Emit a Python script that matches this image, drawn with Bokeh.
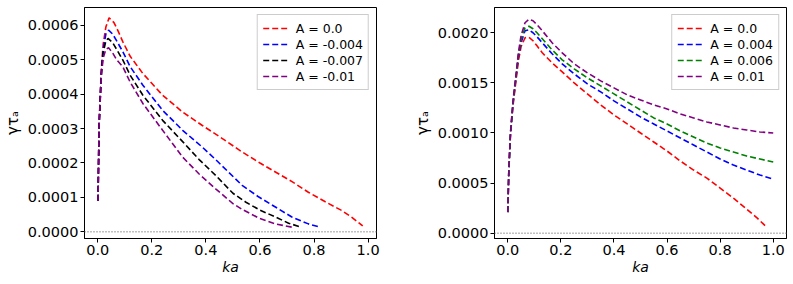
from bokeh.plotting import figure
from bokeh.models import Span, Legend, LegendItem, FixedTicker, PrintfTickFormatter, Range1d
from bokeh.layouts import row
from bokeh.embed import file_html
from bokeh.resources import INLINE

# ---------------- left panel: A <= 0 (values of gamma*tau_a) ----------------
left_labels = ["A = 0.0", "A = -0.004", "A = -0.007", "A = -0.01"]
left_colors = ["red", "blue", "black", "purple"]

ka_L_a00 = [0.001, 0.005, 0.013, 0.02, 0.03, 0.042, 0.06, 0.075, 0.093, 0.12, 0.167, 0.24, 0.314,
            0.387, 0.461, 0.534, 0.6, 0.657, 0.72, 0.779, 0.84, 0.902, 0.94, 0.98]
g_L_a00 = [0.9e-4, 3.1e-4, 4.7e-4, 5.45e-4, 5.95e-4, 6.22e-4, 6.08e-4, 5.84e-4, 5.52e-4, 5.1e-4, 4.6e-4,
           3.97e-4, 3.48e-4, 3.09e-4, 2.71e-4, 2.32e-4, 2.0e-4, 1.74e-4, 1.45e-4, 1.15e-4, 0.88e-4,
           0.62e-4, 0.42e-4, 0.17e-4]

ka_L_a004 = [0.001, 0.005, 0.013, 0.02, 0.03, 0.04, 0.055, 0.07, 0.093, 0.12, 0.167, 0.24, 0.314,
             0.387, 0.436, 0.534, 0.596, 0.657, 0.718, 0.779, 0.822]
g_L_a004 = [0.9e-4, 3.1e-4, 4.6e-4, 5.3e-4, 5.75e-4, 5.86e-4, 5.75e-4, 5.55e-4, 5.23e-4, 4.8e-4, 4.26e-4,
            3.53e-4, 2.95e-4, 2.46e-4, 2.1e-4, 1.35e-4, 1.01e-4, 0.72e-4, 0.43e-4, 0.23e-4, 0.135e-4]

ka_L_a007 = [0.001, 0.005, 0.013, 0.02, 0.03, 0.038, 0.055, 0.07, 0.093, 0.12, 0.167, 0.24, 0.314,
             0.375, 0.436, 0.5, 0.55, 0.6, 0.657, 0.706, 0.752]
g_L_a007 = [0.9e-4, 3.1e-4, 4.55e-4, 5.2e-4, 5.55e-4, 5.62e-4, 5.5e-4, 5.3e-4, 4.99e-4, 4.55e-4, 3.97e-4,
            3.24e-4, 2.62e-4, 2.1e-4, 1.64e-4, 1.12e-4, 0.85e-4, 0.63e-4, 0.43e-4, 0.25e-4, 0.135e-4]

ka_L_a010 = [0.001, 0.005, 0.013, 0.02, 0.03, 0.04, 0.055, 0.07, 0.093, 0.12, 0.167, 0.24, 0.314,
             0.375, 0.436, 0.5, 0.534, 0.596, 0.657, 0.718]
g_L_a010 = [0.9e-4, 3.1e-4, 4.5e-4, 5.05e-4, 5.3e-4, 5.35e-4, 5.2e-4, 5.0e-4, 4.79e-4, 4.35e-4, 3.73e-4,
            2.95e-4, 2.17e-4, 1.68e-4, 1.25e-4, 0.82e-4, 0.65e-4, 0.4e-4, 0.23e-4, 0.135e-4]

# ---------------- right panel: A >= 0 ----------------
right_labels = ["A = 0.0", "A = 0.004", "A = 0.006", "A = 0.01"]
right_colors = ["red", "blue", "green", "purple"]

ka_R_common = [0.0, 0.004, 0.01, 0.02, 0.03, 0.04, 0.05, 0.065, 0.08, 0.095, 0.11, 0.13, 0.167, 0.205,
               0.25, 0.3, 0.35, 0.4, 0.45, 0.5, 0.55, 0.6, 0.65, 0.7, 0.75, 0.8, 0.85, 0.9, 0.95, 1.0]

ka_R_a00 = [0.0, 0.004, 0.01, 0.02, 0.03, 0.04, 0.05, 0.065, 0.08, 0.095, 0.11, 0.13, 0.167, 0.205,
            0.25, 0.3, 0.35, 0.4, 0.45, 0.5, 0.55, 0.6, 0.65, 0.7, 0.75, 0.8, 0.85, 0.9, 0.94, 0.975]
g_R_a00 = [0.21e-3, 0.62e-3, 0.97e-3, 1.28e-3, 1.5e-3, 1.72e-3, 1.86e-3, 1.95e-3, 1.955e-3, 1.92e-3,
           1.87e-3, 1.8e-3, 1.7e-3, 1.61e-3, 1.5e-3, 1.39e-3, 1.28e-3, 1.18e-3, 1.09e-3, 1.0e-3,
           0.91e-3, 0.82e-3, 0.72e-3, 0.63e-3, 0.55e-3, 0.45e-3, 0.35e-3, 0.24e-3, 0.15e-3, 0.06e-3]

g_R_a004 = [0.21e-3, 0.62e-3, 0.98e-3, 1.3e-3, 1.53e-3, 1.76e-3, 1.9e-3, 2.02e-3, 2.03e-3, 2.0e-3,
            1.96e-3, 1.9e-3, 1.79e-3, 1.69e-3, 1.59e-3, 1.49e-3, 1.41e-3, 1.32e-3, 1.24e-3, 1.16e-3,
            1.09e-3, 1.02e-3, 0.95e-3, 0.88e-3, 0.81e-3, 0.74e-3, 0.68e-3, 0.63e-3, 0.58e-3, 0.54e-3]

g_R_a006 = [0.21e-3, 0.63e-3, 0.99e-3, 1.31e-3, 1.54e-3, 1.78e-3, 1.93e-3, 2.05e-3, 2.065e-3, 2.04e-3,
            2.0e-3, 1.94e-3, 1.83e-3, 1.73e-3, 1.64e-3, 1.55e-3, 1.47e-3, 1.39e-3, 1.31e-3, 1.23e-3,
            1.15e-3, 1.09e-3, 1.02e-3, 0.96e-3, 0.9e-3, 0.85e-3, 0.81e-3, 0.77e-3, 0.74e-3, 0.71e-3]

g_R_a010 = [0.21e-3, 0.64e-3, 1.0e-3, 1.33e-3, 1.56e-3, 1.8e-3, 1.97e-3, 2.1e-3, 2.135e-3, 2.12e-3,
            2.08e-3, 2.02e-3, 1.9e-3, 1.8e-3, 1.69e-3, 1.6e-3, 1.52e-3, 1.45e-3, 1.38e-3, 1.33e-3,
            1.28e-3, 1.24e-3, 1.19e-3, 1.15e-3, 1.11e-3, 1.08e-3, 1.05e-3, 1.03e-3, 1.01e-3, 1.0e-3]

x_ticks = [0.0, 0.2, 0.4, 0.6, 0.8, 1.0]
y_ticks_left = [0.0, 0.0001, 0.0002, 0.0003, 0.0004, 0.0005, 0.0006]
y_ticks_right = [0.0, 0.0005, 0.0010, 0.0015, 0.0020]

FONT = "DejaVu Sans"


def make_panel(width, height, xr, yr, yticks, series, labels, colors, border_left, border_right):
    p = figure(width=width, height=height, output_backend="svg", toolbar_location=None,
               x_range=Range1d(*xr), y_range=Range1d(*yr),
               min_border_left=border_left, min_border_right=border_right,
               min_border_top=7, min_border_bottom=44)
    p.xgrid.visible = False
    p.ygrid.visible = False
    p.outline_line_color = "black"
    p.outline_line_width = 1
    p.outline_line_alpha = 1

    p.xaxis.ticker = FixedTicker(ticks=x_ticks)
    p.xaxis.formatter = PrintfTickFormatter(format="%.1f")
    p.yaxis.ticker = FixedTicker(ticks=yticks)
    p.yaxis.formatter = PrintfTickFormatter(format="%.4f")
    for ax in (p.xaxis, p.yaxis):
        ax.axis_line_color = "black"
        ax.major_tick_line_color = "black"
        ax.major_tick_in = 0
        ax.major_tick_out = 4
        ax.minor_tick_line_color = None
        ax.major_label_text_font = FONT
        ax.major_label_text_font_size = "14.5px"
        ax.major_label_text_color = "black"
        ax.major_label_standoff = 2
        ax.axis_label_text_font = FONT
        ax.axis_label_text_font_size = "14px"
        ax.axis_label_text_color = "black"
    p.xaxis.axis_label = "ka"
    p.xaxis.axis_label_text_font_style = "italic"
    p.xaxis.axis_label_standoff = 1
    p.yaxis.axis_label = "γτₐ"
    p.yaxis.axis_label_text_font_style = "normal"
    p.yaxis.axis_label_text_font_size = "15px"
    p.yaxis.axis_label_standoff = 3

    p.add_layout(Span(location=0, dimension="width", line_color="gray",
                      line_dash="1 2", line_width=1.5))

    items = []
    for (xs, ys), lab, col in zip(series, labels, colors):
        r = p.line(xs, ys, line_color=col, line_width=1.6, line_dash="6 3")
        items.append(LegendItem(label=lab, renderers=[r]))

    leg = Legend(items=items, location="top_right", margin=7, padding=5, spacing=0,
                 label_height=16, glyph_height=16, glyph_width=25, label_standoff=8,
                 label_text_font=FONT, label_text_font_size="12.5px", label_text_color="black",
                 border_line_color="#cccccc", border_line_width=1, border_line_alpha=1,
                 background_fill_color="white", background_fill_alpha=0.8)
    p.add_layout(leg)
    return p


left_series = [(ka_L_a00, g_L_a00), (ka_L_a004, g_L_a004), (ka_L_a007, g_L_a007), (ka_L_a010, g_L_a010)]
right_series = [(ka_R_a00, g_R_a00), (ka_R_common, g_R_a004), (ka_R_common, g_R_a006), (ka_R_common, g_R_a010)]

p1 = make_panel(410, 282, (-0.049, 1.031), (-0.0000195, 0.000652), y_ticks_left,
                left_series, left_labels, left_colors, 81, 34)
p2 = make_panel(382, 282, (-0.05, 1.05), (-0.000053, 0.002252), y_ticks_right,
                right_series, right_labels, right_colors, 82, 6)

layout = row(p1, p2)
open("out.html", "w").write(file_html(layout, INLINE))
